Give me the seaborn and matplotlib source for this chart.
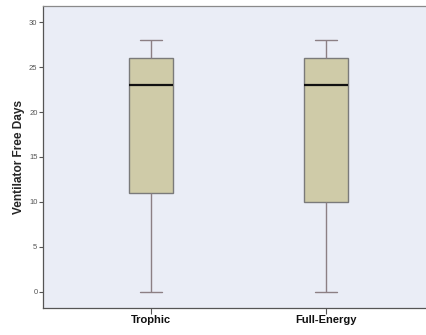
import matplotlib
matplotlib.use("Agg")
import matplotlib.pyplot as plt
import seaborn as sns
import pandas as pd

# Five-number summaries of ventilator-free days per feeding group
groups = ["Trophic", "Full-Energy"]
trophic_days = [0, 11, 23, 26, 28]
full_energy_days = [0, 10, 23, 26, 28]
y_ticks = [0, 5, 10, 15, 20, 25, 30]

df = pd.DataFrame({
    "group": [groups[0]] * len(trophic_days) + [groups[1]] * len(full_energy_days),
    "days": trophic_days + full_energy_days,
})

sns.set_style("white")
plt.rcParams["font.family"] = ["Liberation Sans", "DejaVu Sans"]

fig = plt.figure(figsize=(4.26, 3.35), dpi=100)
ax = fig.add_axes([0.101, 0.081, 0.899, 0.901])
ax.set_facecolor("#eaedf6")

sns.boxplot(
    data=df, x="group", y="days", order=groups, ax=ax,
    width=0.25, whis=10, color="#cfcba8", saturation=1,
    linewidth=1.0, showfliers=False,
    boxprops=dict(edgecolor="#7a7a7a"),
    medianprops=dict(color="#111111", linewidth=1.6),
    whiskerprops=dict(color="#8c7f84"),
    capprops=dict(color="#8c7f84"),
)

ax.set_xlim(-0.617, 1.569)
ax.set_ylim(-1.8, 31.8)
ax.set_yticks(y_ticks)
ax.set_yticklabels([str(t) for t in y_ticks], fontsize=5.5, color="#555555")
ax.set_xticks([0, 1])
ax.set_xticklabels(groups, fontsize=8, fontweight="bold", color="#111111")
ax.tick_params(axis="y", length=3, width=0.8, color="#555555", pad=1, left=True)
ax.tick_params(axis="x", length=4, width=0.8, color="#555555", pad=1, bottom=True)
ax.set_xlabel("")
ax.set_ylabel("Ventilator Free Days", fontsize=8.6, fontweight="bold", labelpad=3)

for side in ["left", "bottom"]:
    ax.spines[side].set_visible(True)
    ax.spines[side].set_color("#555555")
    ax.spines[side].set_linewidth(0.9)
ax.spines["top"].set_visible(True)
ax.spines["top"].set_color("#8a8a8a")
ax.spines["top"].set_linewidth(0.9)
ax.spines["right"].set_visible(False)

fig.savefig("out.png", dpi=100)
